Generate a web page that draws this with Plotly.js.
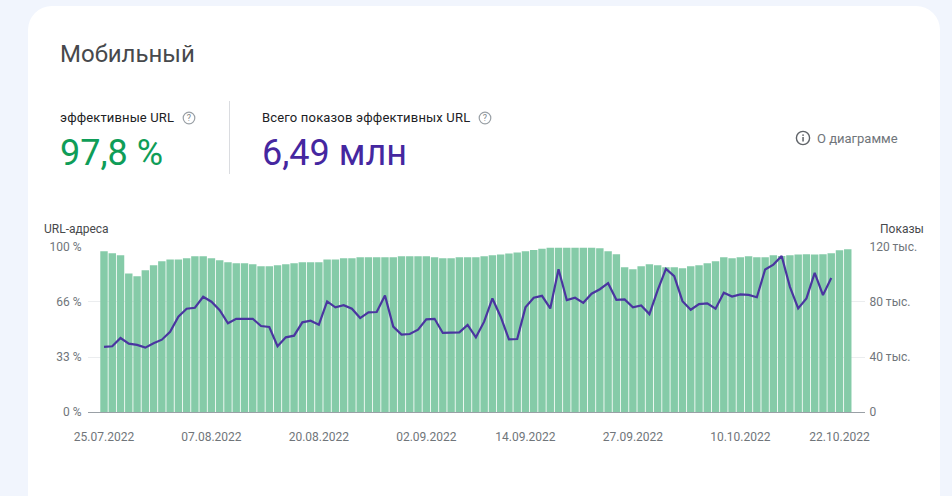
<!DOCTYPE html>
<html><head><meta charset="utf-8">
<script src="https://cdn.plot.ly/plotly-3.0.1.min.js"></script>
<style>
html,body{margin:0;padding:0;width:952px;height:496px;overflow:hidden;background:#f1f5fd;font-family:Roboto,sans-serif}
#card{position:absolute;left:28px;top:6px;width:912px;height:540px;background:#fff;border-radius:24px}
#plot{position:absolute;left:0;top:0;width:952px;height:496px}
.t{position:absolute;white-space:nowrap;line-height:1}
#div{position:absolute;left:229px;top:101px;width:1px;height:73px;background:#dadce0}
.ic{position:absolute}
</style></head><body>
<div id="card"></div>
<div class="t" style="left:60px;top:42px;font-size:24px;color:#47494c">Мобильный</div>
<div class="t" style="left:60px;top:111px;font-size:13px;letter-spacing:.13px;color:#202124">эффективные URL</div>
<svg class="ic" style="left:182px;top:111px" width="14" height="14"><circle cx="7" cy="7" r="5.8" fill="none" stroke="#9aa0a6" stroke-width="1.2"/><text x="7" y="10.2" font-size="9" text-anchor="middle" fill="#80868b" font-family="Roboto">?</text></svg>
<div class="t" style="left:60px;top:135px;font-size:36px;color:#0f9d58">97,8 %</div>
<div id="div"></div>
<div class="t" style="left:262px;top:111px;font-size:13px;letter-spacing:.18px;color:#202124">Всего показов эффективных URL</div>
<svg class="ic" style="left:478px;top:111px" width="14" height="14"><circle cx="7" cy="7" r="5.8" fill="none" stroke="#9aa0a6" stroke-width="1.2"/><text x="7" y="10.2" font-size="9" text-anchor="middle" fill="#80868b" font-family="Roboto">?</text></svg>
<div class="t" style="left:262px;top:135px;font-size:36px;color:#4527a0">6,49 млн</div>
<svg class="ic" style="left:795px;top:130px" width="16" height="16"><circle cx="8" cy="8" r="6.6" fill="none" stroke="#5f6368" stroke-width="1.4"/><rect x="7.3" y="7" width="1.5" height="4.5" fill="#5f6368"/><rect x="7.3" y="4.4" width="1.5" height="1.5" fill="#5f6368"/></svg>
<div class="t" style="left:817px;top:132px;font-size:13px;color:#70757a">О диаграмме</div>
<div id="plot"></div>
<script>
const startDate = "2022-07-25";
const efficientPercent = [97.4,96.2,95,83.9,82.3,85.9,88.9,91.3,92.5,92.5,93.2,94.4,94.4,93.2,92,90.7,90.1,90.1,89.5,88.3,88.3,88.9,89.5,90.1,90.7,90.7,90.7,92.5,92.5,
93.2,93.2,93.8,93.8,93.8,93.8,93.8,94.4,94.4,94.4,94.4,93.8,93.2,93.2,93.8,93.8,93.8,94.4,95,95.4,96,96.6,97.4,98.2,99,99.6,99.6,99.6,99.6,99.6,99.6,99.2,97.4,95.6,87.7,
86.5,88.3,89.5,88.9,87.7,87.7,87.1,88.3,88.9,90.1,91.3,93.8,93.2,93.8,94.4,93.8,93.8,95,94.6,95,95.4,95.6,95.4,95.6,96.2,98,98.6];
const impressions = [47.3,47.8,53.8,49.7,48.8,46.8,50,52.6,58.4,69.3,75.1,75.8,83.8,80.2,74.1,64.5,67.8,67.8,67.8,62.5,61.8,47.8,54.3,55.5,65.2,66.4,63.5,80.4,
76.1,77.7,75.1,68.3,72.4,72.7,84.7,62.1,56.3,56.7,59.9,67.4,67.8,57.5,57.9,57.9,63.3,54.3,65.7,82.6,69.3,52.9,53.1,76.1,83.1,84.5,75.3,103.8,81.4,83.1,79.4,86,89.3,93.7,81.6,81.9,
76.1,77.5,71.2,88.6,104.1,98.8,80.6,74.4,78.5,79,75.1,86.7,84,85.5,85.2,83.5,103.6,107.2,113.5,91,75.3,82.6,101.2,85,97.5];
const xTickVals = ["2022-07-25","2022-08-07","2022-08-20","2022-09-02","2022-09-14","2022-09-27","2022-10-10","2022-10-22"];
const xTickText = ["25.07.2022","07.08.2022","20.08.2022","02.09.2022","14.09.2022","27.09.2022","10.10.2022","22.10.2022"];
const leftTickVals = [0,33.33,66.67,100];
const leftTickText = ["0 %","33 %","66 %","100 %"];
const rightTickVals = [0,40,80,120];
const rightTickText = ["0","40 тыс.","80 тыс.","120 тыс."];

function dayAt(n){const d=new Date(Date.UTC(2022,6,25+n));return d.toISOString().slice(0,10);}
const dates = efficientPercent.map((_,i)=>dayAt(i));
const lineDates = impressions.map((_,i)=>dayAt(i));

const W=952,H=496,L=88,R=865,T=246.5,B=412;
const pitch=8.264, c0=104;
const msDay=86400000, t0=Date.UTC(2022,6,25);
const iso=t=>new Date(t).toISOString().slice(0,19).replace('T',' ');
const xr=[iso(t0+(L-c0)/pitch*msDay),iso(t0+(R-c0)/pitch*msDay)];
const font={family:"Roboto, sans-serif",size:12,color:"#70757a"};

Plotly.newPlot('plot',[
 {type:'bar',x:dates,y:efficientPercent,marker:{color:'#85cba8',line:{width:0}},yaxis:'y',hoverinfo:'skip'},
 {type:'scatter',mode:'lines',x:lineDates,y:impressions,yaxis:'y2',line:{color:'#4a35a0',width:2.2,shape:'linear'},hoverinfo:'skip'}
],{
 width:W,height:H,showlegend:false,bargap:0.1,
 paper_bgcolor:'rgba(0,0,0,0)',plot_bgcolor:'rgba(0,0,0,0)',
 margin:{l:L,r:W-R,t:T,b:H-B,pad:0},font:font,
 xaxis:{type:'date',range:xr,tickmode:'array',tickvals:xTickVals,ticktext:xTickText,showgrid:false,ticks:'outside',ticklen:14,tickcolor:'rgba(0,0,0,0)',tickfont:font,showline:true,linecolor:'#9aa0a6',linewidth:1,zeroline:false},
 yaxis:{range:[0,100],tickmode:'array',tickvals:leftTickVals,ticktext:leftTickText,gridcolor:'#ebedef',gridwidth:1,ticks:'outside',ticklen:3,tickcolor:'rgba(0,0,0,0)',tickfont:font,zeroline:false,showline:false},
 yaxis2:{range:[0,120],overlaying:'y',side:'right',tickmode:'array',tickvals:rightTickVals,ticktext:rightTickText,showgrid:false,ticks:'outside',ticklen:1,tickcolor:'rgba(0,0,0,0)',tickfont:font,zeroline:false,showline:false},
 annotations:[
  {xref:'paper',yref:'paper',x:(42-L)/(R-L),y:(B-228)/(B-T),xanchor:'left',yanchor:'middle',text:'URL-адреса',showarrow:false,font:{family:font.family,size:12,color:'#47494c'}},
  {xref:'paper',yref:'paper',x:(926-L)/(R-L),y:(B-228)/(B-T),xanchor:'right',yanchor:'middle',text:'Показы',showarrow:false,font:{family:font.family,size:12,color:'#47494c'}}
 ]
},{displayModeBar:false,staticPlot:true});
</script>
</body></html>
